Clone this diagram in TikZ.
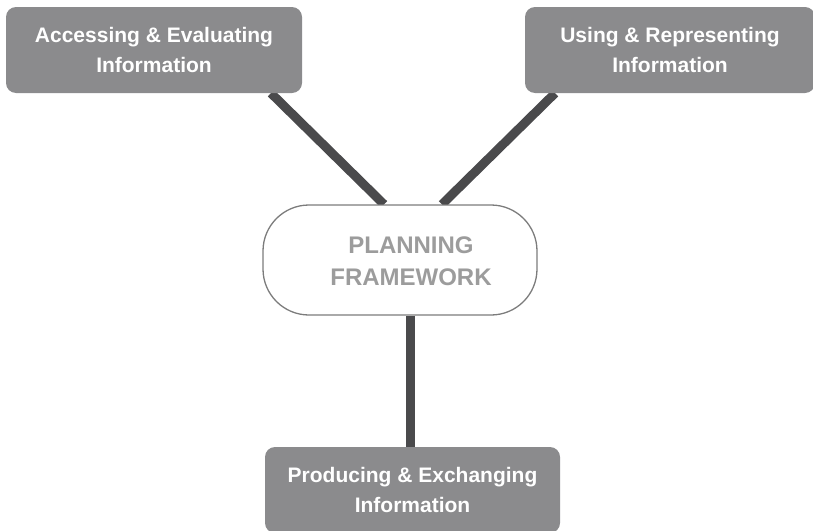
\documentclass[tikz,border=0pt]{standalone}
\usepackage{fontspec}
\setmainfont{Liberation Sans}
\usetikzlibrary{backgrounds}

\definecolor{boxgray}{HTML}{8B8B8D}
\definecolor{linkgray}{HTML}{4A4A4C}
\definecolor{rimgray}{HTML}{7C7C7C}
\definecolor{hubtext}{HTML}{9C9C9C}

\tikzset{
    area/.style={fill=boxgray, rounded corners=10pt, minimum width=296pt,
        minimum height=86pt, text=white, align=center,
        font=\fontsize{21}{29.5}\selectfont\bfseries},
    hub/.style={draw=rimgray, line width=1.3pt, fill=white, rounded corners=46pt,
        minimum width=274pt, minimum height=110pt},
    hubtitle/.style={text=hubtext, align=center,
        font=\fontsize{24}{32}\selectfont\bfseries},
    link/.style={line width=9pt, draw=linkgray}
}

\begin{document}
\begin{tikzpicture}[x=1pt,y=-1pt]
\useasboundingbox (0,0) rectangle (813,530);
\clip (0,0) rectangle (813,530);

\node[area] (access) at (154,50) {Accessing \& Evaluating\\Information};
\node[area, minimum width=290pt] (using) at (670,50) {Using \& Representing\\Information};
\node[hub] (plan) at (400,260) {};
\node[hubtitle] (title) at ([xshift=11pt,yshift=-1.5pt]plan.center) {PLANNING\\FRAMEWORK};
\node[area, minimum width=295pt] (produce) at (412.5,490) {Producing \& Exchanging\\Information};

% links sit under the boxes
\begin{pgfonlayer}{background}
\draw[link] ([xshift=117pt]access.south) -- ([xshift=-16pt]plan.north);
\draw[link] ([xshift=-115pt]using.south) -- ([xshift=42pt]plan.north);
\draw[link] ([xshift=10.5pt]plan.south) -- ([xshift=10.5pt]plan.south |- produce.north);
\end{pgfonlayer}
\end{tikzpicture}
\end{document}
